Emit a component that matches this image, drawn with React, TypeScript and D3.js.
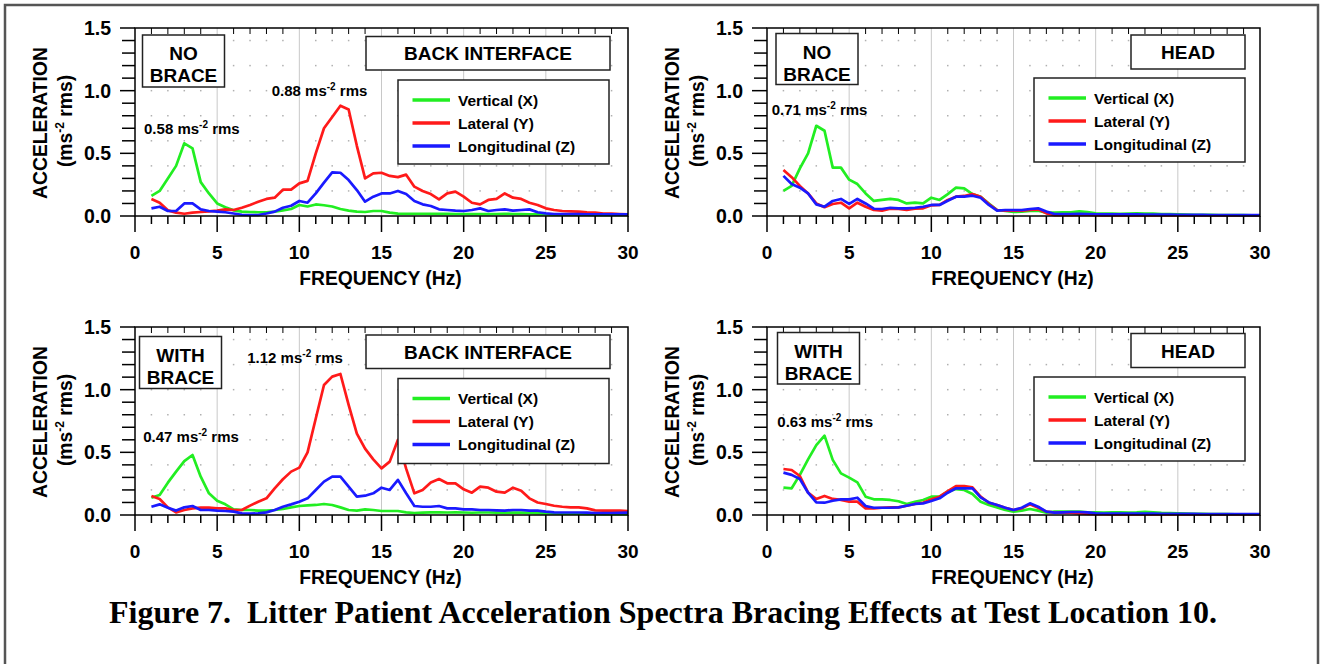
import React from 'react';
import * as d3 from 'd3';

// frequency bins (Hz)
const FREQ = [
  1, 1.5, 2, 2.5, 3, 3.5, 4, 4.5, 5, 5.5, 6, 6.5, 7, 7.5, 8, 8.5, 9, 9.5, 10, 10.5,
  11, 11.5, 12, 12.5, 13, 13.5, 14, 14.5, 15, 15.5, 16, 16.5, 17, 17.5, 18, 18.5, 19, 19.5, 20, 20.5,
  21, 21.5, 22, 22.5, 23, 23.5, 24, 24.5, 25, 25.5, 26, 26.5, 27, 27.5, 28, 28.5, 29, 29.5, 30,
];

const SERIES_NAMES = ['Vertical (X)', 'Lateral (Y)', 'Longitudinal (Z)'];
const X_TICKS = [0, 5, 10, 15, 20, 25, 30];
const Y_TICKS = [0, 0.5, 1.0, 1.5];

// NO BRACE - BACK INTERFACE
const noBraceBackX = [
  0.16, 0.2, 0.3, 0.4, 0.58, 0.54, 0.27, 0.18, 0.1, 0.07, 0.045, 0.035, 0.032, 0.03, 0.03, 0.035, 0.045, 0.056, 0.088, 0.076,
  0.092, 0.086, 0.076, 0.056, 0.043, 0.035, 0.032, 0.04, 0.04, 0.027, 0.019, 0.018, 0.018, 0.018, 0.017, 0.017, 0.017, 0.016, 0.016, 0.015,
  0.015, 0.015, 0.016, 0.017, 0.016, 0.015, 0.014, 0.013, 0.012, 0.011, 0.011, 0.01, 0.01, 0.01, 0.009, 0.009, 0.008, 0.008, 0.008,
];
const noBraceBackY = [
  0.135, 0.106, 0.045, 0.027, 0.018, 0.027, 0.032, 0.037, 0.043, 0.053, 0.048, 0.066, 0.088, 0.114, 0.136, 0.146, 0.21, 0.21, 0.26, 0.28,
  0.5, 0.7, 0.79, 0.88, 0.85, 0.56, 0.3, 0.34, 0.345, 0.32, 0.31, 0.33, 0.234, 0.2, 0.175, 0.133, 0.18, 0.195, 0.154, 0.106,
  0.093, 0.128, 0.136, 0.18, 0.146, 0.136, 0.106, 0.088, 0.061, 0.048, 0.04, 0.037, 0.035, 0.03, 0.027, 0.02, 0.019, 0.016, 0.013,
];
const noBraceBackZ = [
  0.061, 0.074, 0.04, 0.04, 0.1, 0.1, 0.053, 0.04, 0.035, 0.03, 0.02, 0.01, 0.008, 0.008, 0.02, 0.035, 0.066, 0.082, 0.12, 0.106,
  0.18, 0.266, 0.348, 0.345, 0.287, 0.207, 0.114, 0.154, 0.18, 0.18, 0.2, 0.175, 0.12, 0.093, 0.08, 0.053, 0.048, 0.043, 0.04, 0.048,
  0.061, 0.04, 0.048, 0.053, 0.043, 0.048, 0.053, 0.03, 0.021, 0.016, 0.015, 0.015, 0.015, 0.014, 0.014, 0.014, 0.013, 0.013, 0.013,
];

// NO BRACE - HEAD
const noBraceHeadX = [
  0.2, 0.24, 0.38, 0.5, 0.72, 0.68, 0.386, 0.386, 0.29, 0.255, 0.18, 0.12, 0.128, 0.136, 0.128, 0.1, 0.106, 0.1, 0.146, 0.128,
  0.175, 0.226, 0.22, 0.175, 0.154, 0.1, 0.048, 0.04, 0.032, 0.035, 0.04, 0.043, 0.027, 0.027, 0.03, 0.03, 0.037, 0.032, 0.021, 0.02,
  0.02, 0.018, 0.02, 0.022, 0.02, 0.02, 0.016, 0.015, 0.013, 0.012, 0.01, 0.01, 0.009, 0.008, 0.008, 0.007, 0.007, 0.006, 0.006,
];
const noBraceHeadY = [
  0.367, 0.31, 0.24, 0.18, 0.1, 0.07, 0.096, 0.106, 0.061, 0.106, 0.074, 0.048, 0.043, 0.058, 0.056, 0.048, 0.058, 0.061, 0.085, 0.088,
  0.128, 0.154, 0.16, 0.175, 0.154, 0.096, 0.048, 0.043, 0.043, 0.043, 0.048, 0.053, 0.021, 0.006, 0.006, 0.007, 0.008, 0.008, 0.006, 0.005,
  0.005, 0.005, 0.005, 0.005, 0.005, 0.005, 0.005, 0.005, 0.005, 0.005, 0.004, 0.004, 0.004, 0.004, 0.004, 0.004, 0.004, 0.004, 0.004,
];
const noBraceHeadZ = [
  0.32, 0.255, 0.226, 0.18, 0.093, 0.074, 0.12, 0.136, 0.096, 0.136, 0.1, 0.058, 0.056, 0.066, 0.061, 0.061, 0.066, 0.074, 0.088, 0.088,
  0.122, 0.154, 0.154, 0.162, 0.146, 0.088, 0.043, 0.048, 0.048, 0.048, 0.056, 0.061, 0.035, 0.016, 0.015, 0.016, 0.017, 0.016, 0.014, 0.013,
  0.013, 0.013, 0.013, 0.013, 0.012, 0.012, 0.011, 0.011, 0.01, 0.01, 0.009, 0.009, 0.008, 0.008, 0.008, 0.008, 0.007, 0.007, 0.007,
];

// WITH BRACE - BACK INTERFACE
const braceBackX = [
  0.138, 0.16, 0.258, 0.346, 0.43, 0.479, 0.306, 0.173, 0.114, 0.085, 0.045, 0.04, 0.04, 0.035, 0.035, 0.04, 0.048, 0.061, 0.072, 0.077,
  0.08, 0.088, 0.08, 0.061, 0.04, 0.035, 0.045, 0.04, 0.032, 0.032, 0.032, 0.021, 0.016, 0.019, 0.021, 0.021, 0.02, 0.021, 0.02, 0.018,
  0.02, 0.02, 0.019, 0.018, 0.02, 0.019, 0.017, 0.015, 0.013, 0.012, 0.011, 0.01, 0.01, 0.009, 0.008, 0.007, 0.007, 0.006, 0.006,
];
const braceBackY = [
  0.152, 0.128, 0.061, 0.021, 0.04, 0.053, 0.059, 0.059, 0.053, 0.053, 0.04, 0.04, 0.075, 0.106, 0.133, 0.213, 0.285, 0.346, 0.378, 0.5,
  0.77, 1.037, 1.104, 1.125, 0.878, 0.65, 0.53, 0.444, 0.372, 0.426, 0.6, 0.37, 0.173, 0.2, 0.26, 0.287, 0.253, 0.253, 0.205, 0.178,
  0.226, 0.218, 0.186, 0.178, 0.218, 0.194, 0.133, 0.1, 0.088, 0.074, 0.066, 0.061, 0.061, 0.053, 0.037, 0.035, 0.035, 0.035, 0.032,
];
const braceBackZ = [
  0.066, 0.085, 0.058, 0.035, 0.061, 0.072, 0.04, 0.04, 0.035, 0.032, 0.027, 0.013, 0.011, 0.013, 0.021, 0.04, 0.066, 0.085, 0.106, 0.133,
  0.2, 0.266, 0.306, 0.306, 0.226, 0.146, 0.154, 0.173, 0.218, 0.2, 0.28, 0.173, 0.072, 0.066, 0.066, 0.072, 0.053, 0.053, 0.045, 0.045,
  0.04, 0.04, 0.037, 0.035, 0.04, 0.04, 0.035, 0.035, 0.027, 0.021, 0.02, 0.02, 0.02, 0.019, 0.015, 0.015, 0.016, 0.017, 0.019,
];

// WITH BRACE - HEAD
const braceHeadX = [
  0.218, 0.213, 0.32, 0.444, 0.558, 0.633, 0.44, 0.332, 0.298, 0.26, 0.146, 0.125, 0.125, 0.12, 0.11, 0.088, 0.106, 0.12, 0.146, 0.146,
  0.186, 0.207, 0.2, 0.168, 0.106, 0.08, 0.061, 0.04, 0.027, 0.035, 0.048, 0.035, 0.019, 0.027, 0.027, 0.027, 0.027, 0.021, 0.021, 0.02,
  0.022, 0.021, 0.02, 0.021, 0.025, 0.022, 0.018, 0.016, 0.014, 0.012, 0.01, 0.009, 0.008, 0.007, 0.007, 0.006, 0.006, 0.005, 0.005,
];
const braceHeadY = [
  0.367, 0.359, 0.311, 0.178, 0.128, 0.152, 0.128, 0.12, 0.106, 0.106, 0.053, 0.053, 0.058, 0.061, 0.061, 0.074, 0.088, 0.098, 0.125, 0.146,
  0.19, 0.231, 0.231, 0.22, 0.146, 0.098, 0.08, 0.058, 0.04, 0.053, 0.085, 0.058, 0.027, 0.019, 0.019, 0.019, 0.013, 0.008, 0.006, 0.006,
  0.005, 0.005, 0.005, 0.005, 0.005, 0.005, 0.005, 0.005, 0.005, 0.005, 0.005, 0.005, 0.005, 0.005, 0.005, 0.005, 0.005, 0.005, 0.005,
];
const braceHeadZ = [
  0.338, 0.32, 0.287, 0.178, 0.1, 0.098, 0.114, 0.125, 0.125, 0.138, 0.072, 0.058, 0.058, 0.058, 0.061, 0.074, 0.088, 0.093, 0.112, 0.133,
  0.178, 0.213, 0.213, 0.213, 0.141, 0.1, 0.08, 0.058, 0.04, 0.058, 0.093, 0.066, 0.027, 0.019, 0.021, 0.024, 0.024, 0.021, 0.013, 0.012,
  0.012, 0.012, 0.012, 0.011, 0.011, 0.011, 0.01, 0.01, 0.01, 0.009, 0.009, 0.008, 0.008, 0.008, 0.008, 0.008, 0.008, 0.008, 0.008,
];

const COLORS = ['#22ee22', '#ff1a1a', '#1a1aff'];
const FONT = '"Liberation Sans", Arial, sans-serif';
const PW = 493;
const PH = 188;

type Box = { x: number; y: number; w: number; h: number };
type Annot = { f: number; v: number; text: string };
type PanelCfg = {
  x0: number; y0: number;
  series: number[][];
  brace: string[]; location: string;
  annots: Annot[];
  nameBox: Box; locBox: Box; legendBox: Box;
};

const panels: PanelCfg[] = [
  {
    x0: 135, y0: 28, series: [noBraceBackX, noBraceBackY, noBraceBackZ],
    brace: ['NO', 'BRACE'], location: 'BACK INTERFACE',
    annots: [{ f: 0.55, v: 0.70, text: '0.58' }, { f: 8.32, v: 1.0, text: '0.88' }],
    nameBox: { x: 7.5, y: 7, w: 82, h: 52 }, locBox: { x: 231, y: 8.5, w: 244, h: 33.5 }, legendBox: { x: 263, y: 52, w: 211, h: 84 },
  },
  {
    x0: 767, y0: 28, series: [noBraceHeadX, noBraceHeadY, noBraceHeadZ],
    brace: ['NO', 'BRACE'], location: 'HEAD',
    annots: [{ f: 0.29, v: 0.85, text: '0.71' }],
    nameBox: { x: 9, y: 5.5, w: 82, h: 51 }, locBox: { x: 364, y: 7, w: 114, h: 34 }, legendBox: { x: 267, y: 50, w: 211, h: 84 },
  },
  {
    x0: 135, y0: 327, series: [braceBackX, braceBackY, braceBackZ],
    brace: ['WITH', 'BRACE'], location: 'BACK INTERFACE',
    annots: [{ f: 6.83, v: 1.258, text: '1.12' }, { f: 0.5, v: 0.625, text: '0.47' }],
    nameBox: { x: 4.5, y: 9.5, w: 82, h: 52 }, locBox: { x: 231, y: 8, w: 244, h: 33.5 }, legendBox: { x: 263, y: 51.5, w: 211, h: 85 },
  },
  {
    x0: 767, y0: 327, series: [braceHeadX, braceHeadY, braceHeadZ],
    brace: ['WITH', 'BRACE'], location: 'HEAD',
    annots: [{ f: 0.63, v: 0.75, text: '0.63' }],
    nameBox: { x: 10.5, y: 5.5, w: 82, h: 51.5 }, locBox: { x: 364, y: 6.5, w: 114, h: 34 }, legendBox: { x: 267, y: 50, w: 211, h: 84 },
  },
];

const Panel: React.FC<{ cfg: PanelCfg }> = ({ cfg }) => {
  const x = d3.scaleLinear().domain([0, 30]).range([0, PW]);
  const y = d3.scaleLinear().domain([0, 1.5]).range([PH, 0]);
  const line = d3.line<number>().x((_, i) => x(FREQ[i])).y((d) => y(d));
  const minorX = d3.range(0, 31, 1);
  const minorY = d3.range(0, 16, 1).map((d) => d / 10);
  const dotX = minorX.filter((d) => d % 5 !== 0);
  const dotY = d3.range(1, 8).map((d) => d / 5);
  const { nameBox, locBox, legendBox } = cfg;

  return (
    <g transform={`translate(${cfg.x0},${cfg.y0})`} fontFamily={FONT} fontWeight="bold">
      {/* grid */}
      {[5, 10, 15, 20, 25].map((t) => (
        <line key={`g${t}`} x1={x(t)} x2={x(t)} y1={0} y2={PH} stroke="#c8c8c8" strokeWidth={1} />
      ))}
      {dotX.map((fx) =>
        dotY.map((vy) => (
          <rect key={`d${fx}-${vy}`} x={x(fx) - 0.75} y={y(vy) - 0.75} width={1.5} height={1.5} fill="#b0b0b0" />
        )),
      )}
      {/* top inside ticks */}
      {minorX.map((t) => (
        <line key={`tt${t}`} x1={x(t)} x2={x(t)} y1={0} y2={t % 5 === 0 ? 0 : 6} stroke="#000" strokeWidth={1} />
      ))}
      {/* data */}
      {cfg.series.map((s, i) => (
        <path key={`s${i}`} d={line(s) || ''} fill="none" stroke={COLORS[i]} strokeWidth={2.7} strokeLinejoin="round" />
      ))}
      {/* frame */}
      <rect x={0} y={0} width={PW} height={PH} fill="none" stroke="#000" strokeWidth={1.5} />
      {/* x ticks */}
      {minorX.map((t) => (
        <line key={`xt${t}`} x1={x(t)} x2={x(t)} y1={PH} y2={PH + (t % 5 === 0 ? 16 : 8)} stroke="#000" strokeWidth={1.5} />
      ))}
      {X_TICKS.map((t) => (
        <text key={`xl${t}`} x={x(t)} y={PH + 42.5} textAnchor="middle" fontSize={19}>{t}</text>
      ))}
      {/* y ticks */}
      {minorY.map((t, i) => (
        <line key={`yt${i}`} x1={i % 5 === 0 ? -15 : -13} x2={0} y1={y(t)} y2={y(t)} stroke="#000" strokeWidth={1.5} />
      ))}
      {Y_TICKS.map((t) => (
        <text key={`yl${t}`} x={-24} y={y(t) + 7} textAnchor="end" fontSize={19.5}>{t.toFixed(1)}</text>
      ))}
      {/* axis titles */}
      <text x={PW / 2 - 1} y={PH + 69} textAnchor="middle" fontSize={19.3}>FREQUENCY (Hz)</text>
      <text transform={`translate(-88,${PH / 2 + 1}) rotate(-90)`} textAnchor="middle" fontSize={19.3}>ACCELERATION</text>
      <text transform={`translate(-63,${PH / 2 - 1}) rotate(-90)`} textAnchor="middle" fontSize={19.3}>
        (ms<tspan fontSize={12} dy={-8}>-2</tspan><tspan dy={8}> rms)</tspan>
      </text>
      {/* annotations */}
      {cfg.annots.map((a, i) => (
        <text key={`a${i}`} x={x(a.f)} y={y(a.v) + 5.5} fontSize={15}>
          {a.text} ms<tspan fontSize={10} dy={-6}>-2</tspan><tspan dy={6}> rms</tspan>
        </text>
      ))}
      {/* bracing box */}
      <rect x={nameBox.x} y={nameBox.y} width={nameBox.w} height={nameBox.h} fill="#fff" stroke="#222" strokeWidth={1.5} />
      {cfg.brace.map((t, i) => (
        <text key={`b${i}`} x={nameBox.x + nameBox.w / 2} y={nameBox.y + 25 + i * 22} textAnchor="middle" fontSize={19}>{t}</text>
      ))}
      {/* location box */}
      <rect x={locBox.x} y={locBox.y} width={locBox.w} height={locBox.h} fill="#fff" stroke="#222" strokeWidth={1.5} />
      <text x={locBox.x + locBox.w / 2} y={locBox.y + locBox.h / 2 + 7} textAnchor="middle" fontSize={19}>{cfg.location}</text>
      {/* legend */}
      <rect x={legendBox.x} y={legendBox.y} width={legendBox.w} height={legendBox.h} fill="#fff" stroke="#222" strokeWidth={1.5} />
      {SERIES_NAMES.map((n, i) => (
        <g key={`l${i}`} transform={`translate(${legendBox.x},${legendBox.y + 20 + i * 23})`}>
          <line x1={14.5} x2={52} y1={0} y2={0} stroke={COLORS[i]} strokeWidth={3.5} />
          <text x={60} y={5.5} fontSize={15.5}>{n}</text>
        </g>
      ))}
    </g>
  );
};

export default function App() {
  return (
    <svg width={1323} height={664} style={{ position: 'absolute', left: 0, top: 0, background: '#fff' }}>
      <rect x={0} y={0} width={1323} height={664} fill="#fff" />
      <path d="M5,664 L5,5 L1318,5 L1318,664" fill="none" stroke="#555" strokeWidth={2.5} />
      {panels.map((p, i) => (
        <Panel key={i} cfg={p} />
      ))}
      <text x={663} y={623} textAnchor="middle" fontSize={32} fontWeight="bold"
        fontFamily='"Liberation Serif", "Times New Roman", serif' style={{ whiteSpace: 'pre' }}>
        {'Figure 7.  Litter Patient Acceleration Spectra Bracing Effects at Test Location 10.'}
      </text>
    </svg>
  );
}
